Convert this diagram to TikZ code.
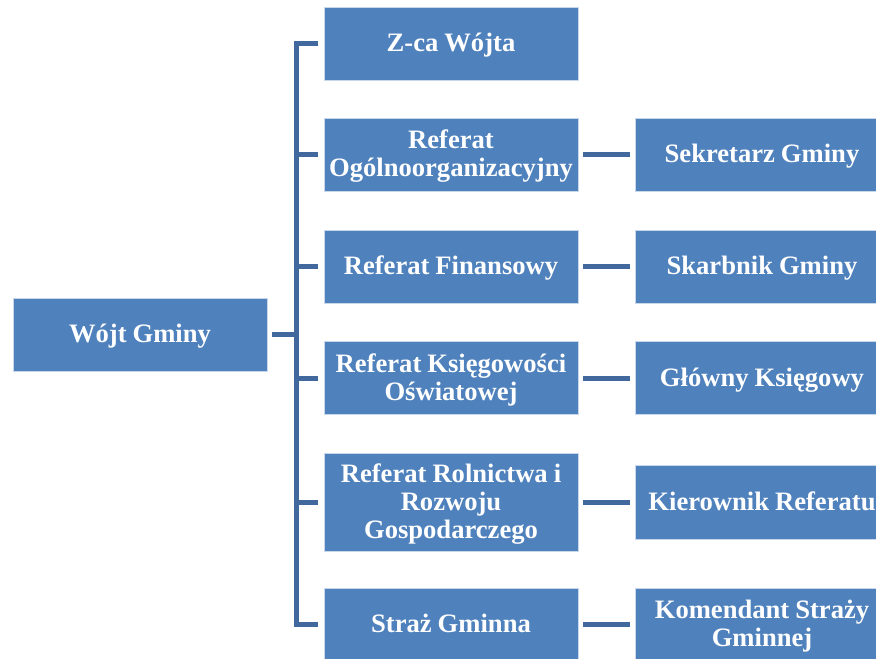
\documentclass[tikz,border=0pt]{standalone}
\usepackage{fontspec}
\setmainfont[WordSpace=0.9]{Liberation Serif}
\definecolor{boxfill}{HTML}{4F81BD}
\definecolor{boxedge}{HTML}{C9D7EA}
\definecolor{connc}{HTML}{41699D}
\newcommand\boxlbl[1]{\raisebox{0pt}[\dimexpr\height+5pt\relax][\depth]{\begin{tabular}{@{}c@{}}#1\end{tabular}}}
\tikzset{
  orgbox/.style={rectangle, fill=boxfill, draw=boxedge, line width=0.7pt,
    minimum width=254pt, minimum height=73pt, inner sep=2pt,
    align=center, text=white, font=\bfseries\fontsize{26.6}{28}\selectfont},
  conn/.style={draw=connc, line width=5pt, line join=miter, line cap=butt},
}
\begin{document}
\begin{tikzpicture}[x=1pt,y=-1pt]
\useasboundingbox (0,0) rectangle (876,659);
\clip (0,0) rectangle (876,659);
\node[orgbox] (wojt) at (140,334.5) {\boxlbl{Wójt Gminy}};
\node[orgbox] (zca) at (451,43.5) {\boxlbl{Z-ca Wójta}};
\node[orgbox] (og) at (451,154.5) {\boxlbl{Referat\\Ogólnoorganizacyjny}};
\node[orgbox] (fin) at (451,266.5) {\boxlbl{Referat Finansowy}};
\node[orgbox] (ks) at (451,378) {\boxlbl{Referat Księgowości\\Oświatowej}};
\node[orgbox, minimum height=98pt] (rol) at (451,502) {\boxlbl{Referat Rolnictwa i\\Rozwoju\\Gospodarczego}};
\node[orgbox] (straz) at (451,624.5) {\boxlbl{Straż Gminna}};
\node[orgbox] (sek) at (762,154.5) {\boxlbl{Sekretarz Gminy}};
\node[orgbox] (skarb) at (762,266.5) {\boxlbl{Skarbnik Gminy}};
\node[orgbox] (glow) at (762,378) {\boxlbl{Główny Księgowy}};
\node[orgbox, minimum height=74pt] (kier) at (762,502) {\boxlbl{Kierownik Referatu}};
\node[orgbox] (kom) at (762,624.5) {\boxlbl{Komendant Straży\\Gminnej}};
\coordinate (bt) at (296,44);
\draw[conn] ([xshift=-6pt]zca.west) -- (zca.west -| bt) -- (straz.west -| bt) -- ([xshift=-6pt]straz.west);
\foreach \n in {og,fin,ks,rol}{
  \draw[conn] ([xshift=-6pt]\n.west) -- (\n.west -| bt);
}
\draw[conn] ([xshift=5pt]wojt.east) -- (wojt.east -| bt);
\draw[conn] ([xshift=5pt]og.east) -- ([xshift=-5pt]sek.west);
\draw[conn] ([xshift=5pt]fin.east) -- ([xshift=-5pt]skarb.west);
\draw[conn] ([xshift=5pt]ks.east) -- ([xshift=-5pt]glow.west);
\draw[conn] ([xshift=5pt]rol.east) -- ([xshift=-5pt]kier.west);
\draw[conn] ([xshift=5pt]straz.east) -- ([xshift=-5pt]kom.west);
\end{tikzpicture}
\end{document}
